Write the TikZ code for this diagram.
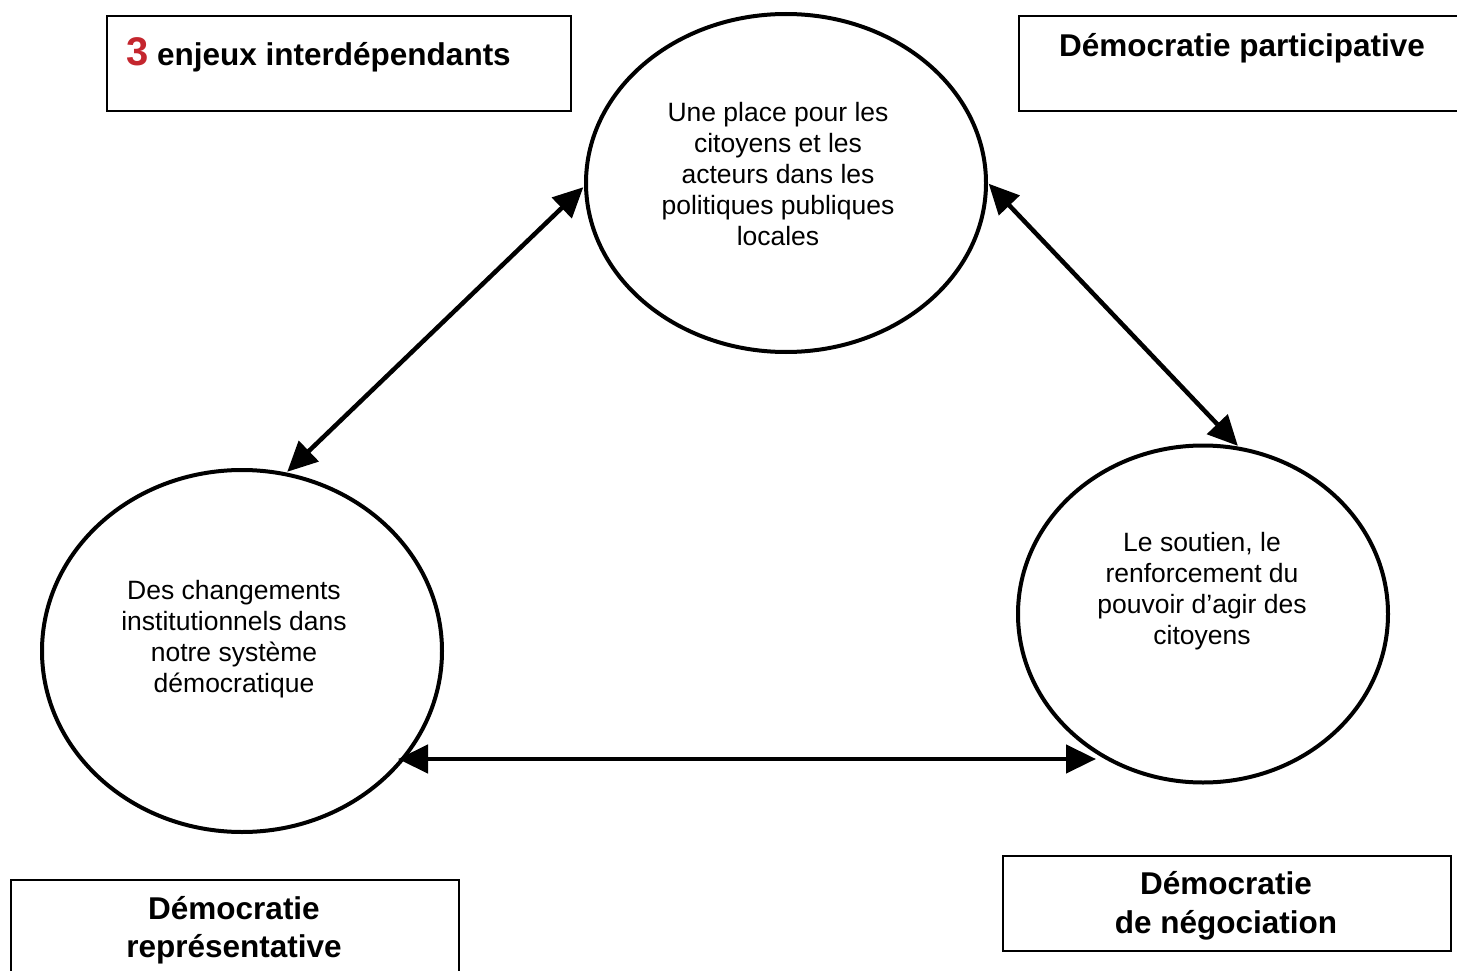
\documentclass[tikz,border=0pt]{standalone}
\usepackage{fontspec}
\setmainfont{Liberation Sans}
\usetikzlibrary{shapes.geometric,arrows.meta}
\definecolor{numred}{RGB}{196,38,46}
\tikzset{
  bubble/.style={draw, ellipse, line width=4pt, inner sep=0pt},
  bodytext/.style={align=center, font=\fontsize{26.5}{31}\selectfont, inner sep=0pt},
  framebox/.style={draw, rectangle, line width=1.6pt, inner sep=0pt},
  headtext/.style={font=\fontsize{31.5}{38.5}\selectfont\bfseries, align=center, inner sep=0pt},
  link/.style={line width=4.5pt, {Triangle[length=30pt,width=28pt]}-{Triangle[length=30pt,width=28pt]}, shorten <=1pt, shorten >=1pt}
}
\begin{document}
\begin{tikzpicture}[x=1pt,y=-1pt]
\useasboundingbox (0,0) rectangle (1457,971);
% boxes
\node[framebox, minimum width=464, minimum height=95, anchor=north west] (tbox) at (106,15) {};
\node[headtext, anchor=base west] (ttext) at (126,66) {\textcolor{numred}{\fontsize{40}{40}\selectfont 3} enjeux interdépendants};
\node[framebox, minimum width=500, minimum height=95, anchor=north west] (pbox) at (1018,15) {};
\node[headtext, anchor=base] (ptext) at (1242,57) {Démocratie participative};
\node[framebox, minimum width=448, minimum height=120, anchor=north west] (rbox) at (10,879) {};
\node[headtext] (rtext) at (234,930) {Démocratie\\représentative};
\node[framebox, minimum width=448, minimum height=95, anchor=north west] (nbox) at (1002,855) {};
\node[headtext] (ntext) at (1226,906) {Démocratie\\de négociation};
% ellipses
\node[bubble, minimum width=400, minimum height=338] (top) at (786,183) {};
\node[bubble, minimum width=400, minimum height=362] (left) at (242,651) {};
\node[bubble, minimum width=370, minimum height=337] (right) at (1203,614) {};
\node[bodytext] (toptext) at (778,174) {Une place pour les\\citoyens et les\\acteurs dans les\\politiques publiques\\locales};
\node[bodytext] (lefttext) at (234,639) {Des changements\\institutionnels dans\\notre système\\démocratique};
\node[bodytext] (righttext) at (1202,591) {Le soutien, le\\renforcement du\\pouvoir d’agir des\\citoyens};
% connectors
\draw[link] (left.76) -- (top.181);
\draw[link] (top.0) -- (right.78);
\coordinate (bl) at ([shift={(155,108)}]left.center);
\coordinate (br) at ([xshift=-106]right.center |- bl);
\draw[link] (bl) -- (br);
\end{tikzpicture}
\end{document}
